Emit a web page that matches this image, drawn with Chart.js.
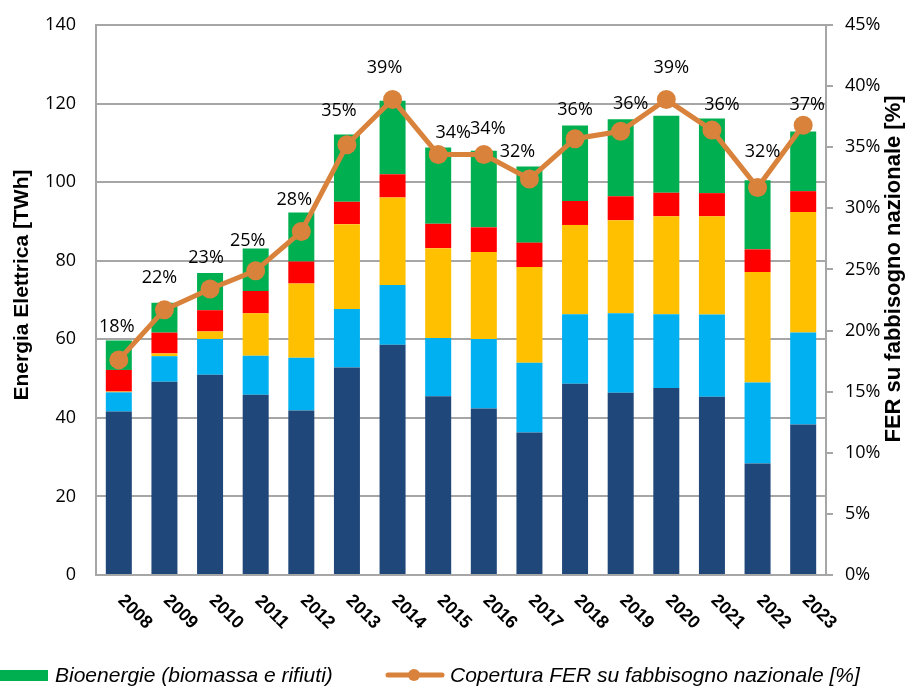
<!DOCTYPE html>
<html>
<head>
<meta charset="utf-8">
<script src="https://cdn.jsdelivr.net/npm/chart.js@4.4.1/dist/chart.umd.min.js"></script>
<style>
html, body { margin: 0; padding: 0; background: #fff; }
#wrap { width: 908px; height: 688px; }
</style>
</head>
<body>
<div id="wrap"><canvas id="chart" width="908" height="688"></canvas></div>
<script>
// anni
const years = ['2008', '2009', '2010', '2011', '2012', '2013', '2014', '2015',
               '2016', '2017', '2018', '2019', '2020', '2021', '2022', '2023'];

// TWh per fonte
const idro = [41.6, 49.2, 51.0, 45.9, 41.9, 52.8, 58.6, 45.5, 42.4, 36.3, 48.7, 46.4, 47.6, 45.4, 28.4, 38.3];
const eolica = [4.9, 6.5, 9.1, 9.9, 13.4, 14.9, 15.2, 14.8, 17.7, 17.7, 17.7, 20.2, 18.8, 20.9, 20.6, 23.4];
const solare = [0.2, 0.7, 1.9, 10.8, 18.9, 21.6, 22.3, 22.9, 22.1, 24.4, 22.7, 23.7, 24.9, 25.0, 28.1, 30.7];
const geotermica = [5.5, 5.3, 5.4, 5.7, 5.6, 5.7, 5.9, 6.2, 6.3, 6.2, 6.1, 6.1, 6.0, 5.9, 5.8, 5.3];
const bioenergie = [7.5, 7.6, 9.5, 10.8, 12.5, 17.1, 18.7, 19.4, 19.5, 19.4, 19.2, 19.6, 19.6, 19.0, 17.6, 15.2];

// copertura FER [%]
const copertura = [17.6, 21.7, 23.4, 24.9, 28.1, 35.2, 38.9, 34.4, 34.4, 32.4, 35.7, 36.3, 38.9, 36.4, 31.7, 36.8];

const leftTicks = { min: 0, max: 140, step: 20 };
const rightTicks = { min: 0, max: 45, step: 5 };

const GRIGIO = '#a6a6a6';
const ARANCIO = '#d9823b';

// spostamenti delle etichette % rispetto al punto (come nell'originale)
const spostaX = [-2, -5, -4, -8, -7, -8, -8, 15, 4, -12, 0, 10, 5, 10, 5, 4];
const spostaY = [-33, -32, -31, -30, -32, -34, -32, -22, -26, -27, -29, -27, -32, -25, -36, -20];

// etichette, titoli e legenda disegnati a mano
const extras = {
    id: 'extras',
    afterDatasetsDraw(chart) {
        const ctx = chart.ctx;
        const meta = chart.getDatasetMeta(5);
        ctx.save();
        ctx.fillStyle = '#000';
        ctx.font = '18px "Open Sans"';
        ctx.textAlign = 'center';
        ctx.textBaseline = 'middle';
        meta.data.forEach((pt, i) => {
            ctx.fillText(Math.round(copertura[i]) + '%', pt.x + spostaX[i], pt.y + spostaY[i]);
        });
        ctx.restore();
    },
    afterDraw(chart) {
        const ctx = chart.ctx;
        const area = chart.chartArea;
        const xs = chart.scales.x;
        ctx.save();
        ctx.fillStyle = '#000';

        // anni ruotati
        ctx.font = 'bold 18px "Liberation Sans"';
        ctx.textAlign = 'center';
        ctx.textBaseline = 'middle';
        years.forEach((y, i) => {
            const x = xs.getPixelForValue(i);
            ctx.save();
            ctx.translate(x + 16, area.bottom + 37);
            ctx.rotate(Math.PI / 4);
            ctx.fillText(y, 0, 0);
            ctx.restore();
        });

        // titoli assi
        ctx.font = 'bold 21px "Liberation Sans"';
        ctx.save();
        ctx.translate(22, 285);
        ctx.rotate(-Math.PI / 2);
        ctx.fillText('Energia Elettrica [TWh]', 0, 0);
        ctx.restore();
        ctx.font = 'bold 22px "Liberation Sans"';
        ctx.save();
        ctx.translate(894, 269);
        ctx.rotate(-Math.PI / 2);
        ctx.fillText('FER su fabbisogno nazionale [%]', 0, 0);
        ctx.restore();

        // legenda (ultima riga)
        ctx.fillStyle = '#00b050';
        ctx.fillRect(0, 670, 48, 11);
        ctx.fillStyle = '#000';
        ctx.font = 'italic 21px "Liberation Sans"';
        ctx.textAlign = 'left';
        ctx.textBaseline = 'alphabetic';
        ctx.fillText('Bioenergie (biomassa e rifiuti)', 55, 682);

        ctx.strokeStyle = ARANCIO;
        ctx.lineWidth = 5;
        ctx.lineCap = 'round';
        ctx.beginPath();
        ctx.moveTo(388, 675);
        ctx.lineTo(442, 675);
        ctx.stroke();
        ctx.fillStyle = ARANCIO;
        ctx.beginPath();
        ctx.arc(414, 675, 6, 0, Math.PI * 2);
        ctx.fill();
        ctx.fillStyle = '#000';
        ctx.fillText('Copertura FER su fabbisogno nazionale [%]', 450, 682);
        ctx.restore();
    }
};

function barSet(label, data, color) {
    return {
        type: 'bar',
        label: label,
        data: data,
        backgroundColor: color,
        borderWidth: 0,
        barPercentage: 0.57,
        categoryPercentage: 1,
        yAxisID: 'y',
        order: 1
    };
}

new Chart(document.getElementById('chart'), {
    data: {
        labels: years,
        datasets: [
            barSet('Idroelettrica', idro, '#1f4779'),
            barSet('Eolica', eolica, '#00b0f0'),
            barSet('Solare', solare, '#ffc000'),
            barSet('Geotermica', geotermica, '#ff0000'),
            barSet('Bioenergie (biomassa e rifiuti)', bioenergie, '#00b050'),
            {
                type: 'line',
                label: 'Copertura FER su fabbisogno nazionale [%]',
                data: copertura,
                borderColor: ARANCIO,
                backgroundColor: ARANCIO,
                borderWidth: 5,
                pointRadius: 9.5,
                pointBackgroundColor: ARANCIO,
                pointBorderWidth: 0,
                tension: 0,
                yAxisID: 'y2',
                order: 0
            }
        ]
    },
    options: {
        responsive: false,
        animation: false,
        devicePixelRatio: 1,
        layout: { padding: { left: 0, right: 0, top: 25, bottom: 113 } },
        plugins: {
            legend: { display: false },
            tooltip: { enabled: false }
        },
        scales: {
            x: {
                stacked: true,
                grid: { display: false },
                ticks: { display: false },
                border: { display: true, color: GRIGIO, width: 2 },
                afterFit(scale) { scale.height = 0; }
            },
            y: {
                stacked: true,
                position: 'left',
                min: leftTicks.min,
                max: leftTicks.max,
                ticks: {
                    stepSize: leftTicks.step,
                    color: '#000',
                    padding: 10,
                    font: { family: 'Open Sans', size: 18 }
                },
                // tacche invisibili: spostano le etichette senza allargare il margine alto
                grid: { color: GRIGIO, lineWidth: 2, drawTicks: true, tickLength: 10, tickColor: 'rgba(0,0,0,0)' },
                border: { display: true, color: GRIGIO, width: 2 },
                afterFit(scale) { scale.width = 96; }
            },
            y2: {
                position: 'right',
                min: rightTicks.min,
                max: rightTicks.max,
                ticks: {
                    stepSize: rightTicks.step,
                    color: '#000',
                    padding: 12,
                    font: { family: 'Open Sans', size: 18 },
                    callback: v => v + '%'
                },
                grid: { drawOnChartArea: false, color: GRIGIO, lineWidth: 2, tickLength: 7 },
                border: { display: true, color: GRIGIO, width: 2 },
                afterFit(scale) { scale.width = 82; }
            }
        }
    },
    plugins: [extras]
});
</script>
</body>
</html>
